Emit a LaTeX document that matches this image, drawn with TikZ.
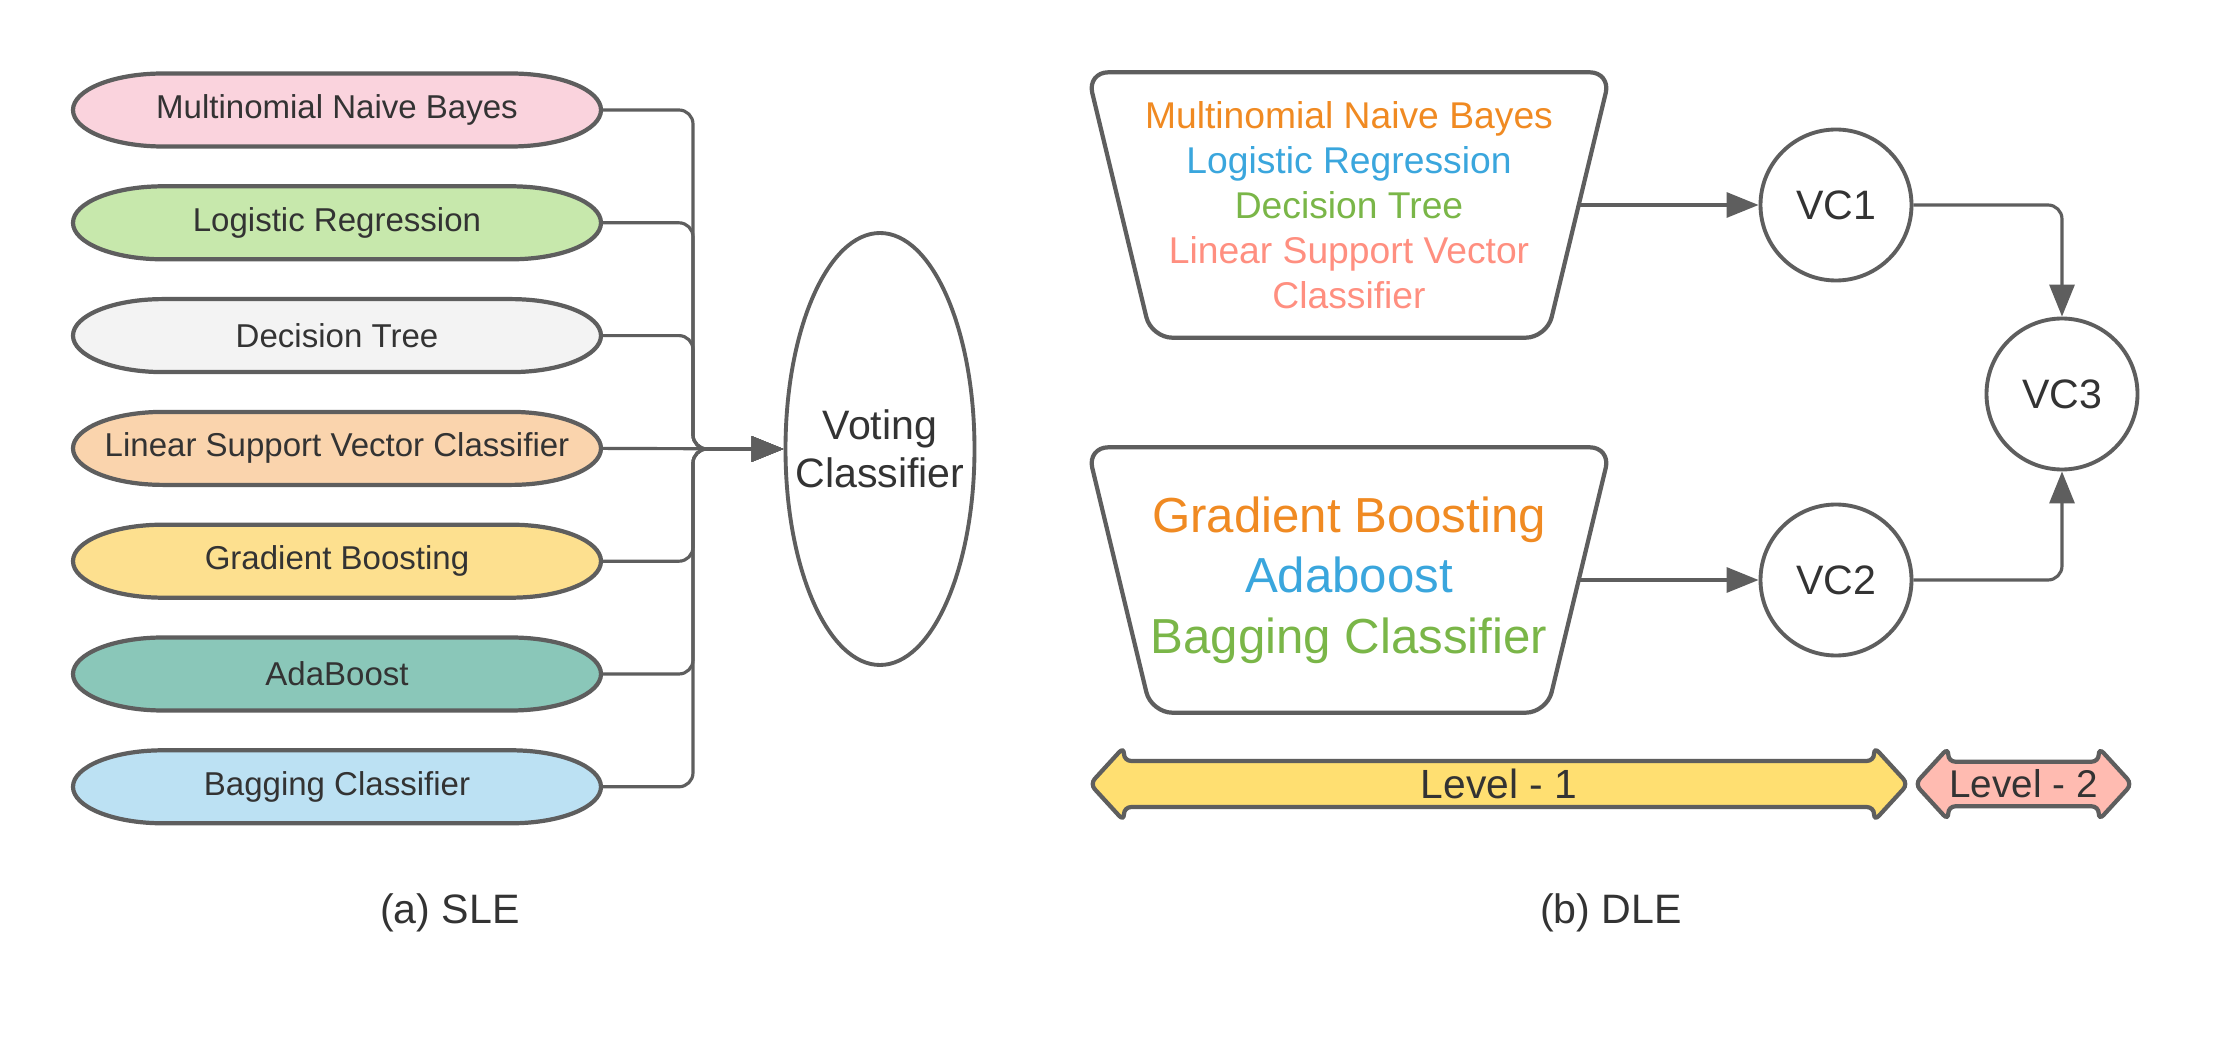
\documentclass[tikz,border=0pt]{standalone}
\usepackage{fontspec}
\setmainfont{Liberation Sans}
\usetikzlibrary{positioning, arrows.meta, calc, shapes.geometric, shapes.arrows, backgrounds}

\definecolor{edgegray}{HTML}{5E5E5E}
\definecolor{txtgray}{HTML}{333333}
\definecolor{fpink}{HTML}{FAD3DD}
\definecolor{fgreen}{HTML}{C7E8AC}
\definecolor{fgray}{HTML}{F3F3F3}
\definecolor{fpeach}{HTML}{FAD4AD}
\definecolor{fyellow}{HTML}{FDE08F}
\definecolor{fteal}{HTML}{8AC7B9}
\definecolor{fblue}{HTML}{BCE1F3}
\definecolor{lvlyellow}{HTML}{FFDF71}
\definecolor{lvlpink}{HTML}{FFBBB1}
\definecolor{torange}{HTML}{F08A22}
\definecolor{tblue}{HTML}{3AA6DD}
\definecolor{tgreen}{HTML}{7AB648}
\definecolor{tsalmon}{HTML}{FF8F80}

\begin{document}
\begin{tikzpicture}[
    every node/.style={text=txtgray},
    arrow/.style={-{Triangle[length=3.2mm,width=2.5mm]}, line width=0.9pt, draw=edgegray, rounded corners=4pt},
    model/.style={
        rectangle,
        minimum width=5.28cm,
        minimum height=0.73cm,
        inner sep=0pt,
        outer sep=0pt,
        font=\fontsize{9.4}{11}\selectfont
    },
    pill/.style={line width=1.2pt, draw=edgegray},
    voter/.style={
        ellipse,
        draw=edgegray,
        line width=1.1pt,
        minimum width=1.89cm,
        minimum height=4.32cm,
        inner xsep=-0.2cm,
        align=center,
        font=\fontsize{11.7}{13.7}\selectfont
    },
    pool/.style={
        rectangle,
        minimum width=5.22cm,
        minimum height=2.64cm,
        inner sep=0pt,
        align=center
    },
    poolline/.style={draw=edgegray, line width=1.2pt, rounded corners=6pt},
    vc/.style={
        circle,
        draw=edgegray,
        line width=1.1pt,
        minimum size=1.51cm,
        inner sep=0pt,
        font=\fontsize{11.7}{14}\selectfont
    },
    level/.style={
        double arrow,
        draw=edgegray,
        line width=1.2pt,
        rounded corners=2pt,
        minimum width=0.70cm,
        double arrow head extend=0.14cm,
        double arrow tip angle=95,
        inner ysep=0.06cm,
        font=\fontsize{11.6}{14}\selectfont
    },
    caption/.style={font=\fontsize{11.7}{14}\selectfont}
]

\useasboundingbox (0,0) rectangle (22.13,10.50);

% (a) single level ensemble
\node[model] (m1) at (3.37,9.40) {Multinomial Naive Bayes};
\node[model, below=0.398cm of m1] (m2) {Logistic Regression};
\node[model, below=0.398cm of m2] (m3) {Decision Tree};
\node[model, below=0.398cm of m3] (m4) {Linear Support Vector Classifier};
\node[model, below=0.398cm of m4] (m5) {Gradient Boosting};
\node[model, below=0.398cm of m5] (m6) {AdaBoost};
\node[model, below=0.398cm of m6] (m7) {Bagging Classifier};
\node[voter] (vote) at (8.80,6.01) {Voting\\Classifier};
\coordinate (bus) at (6.93,6.01);

\begin{scope}[on background layer]
    \fill[white] (0,0) rectangle (22.13,10.50);
    \foreach \nm/\col in {m1/fpink, m2/fgreen, m3/fgray, m4/fpeach, m5/fyellow, m6/fteal, m7/fblue}
        \draw[pill, fill=\col] ($(\nm.north west)+(0.9,0)$) -- ($(\nm.north east)+(-0.9,0)$)
            arc[start angle=90, end angle=-90, x radius=0.9, y radius=0.365]
            -- ($(\nm.south west)+(0.9,0)$)
            arc[start angle=270, end angle=90, x radius=0.9, y radius=0.365] -- cycle;
\end{scope}

\foreach \nm in {m1,m2,m3,m5,m6,m7}
    \draw[arrow] (\nm.east) -- (\nm.east -| bus) |- (vote.west);
\draw[arrow] (m4.east) -- (vote.west);

\node[caption] (capa) at (4.50,1.37) {(a) SLE};

% (b) double level ensemble
\node[pool, font=\fontsize{10.6}{12.8}\selectfont] (tr1) at (13.49,8.45) {
    \textcolor{torange}{Multinomial Naive Bayes}\\
    \textcolor{tblue}{Logistic Regression}\\
    \textcolor{tgreen}{Decision Tree}\\
    \textcolor{tsalmon}{Linear Support Vector}\\
    \textcolor{tsalmon}{Classifier}
};
\node[pool, font=\fontsize{14}{17.2}\selectfont] (tr2) at (13.49,4.70) {
    \textcolor{torange}{Gradient Boosting}\\
    \textcolor{tblue}{Adaboost}\\
    \textcolor{tgreen}{Bagging Classifier}
};
\foreach \nm in {tr1,tr2}
    \draw[poolline] (\nm.north west) -- (\nm.north east) -- ($(\nm.south east)+(-0.64,0)$)
        -- ($(\nm.south west)+(0.64,0)$) -- cycle;
\coordinate (tr1out) at ($(tr1.east)+(-0.32,0)$);
\coordinate (tr2out) at ($(tr2.east)+(-0.32,0)$);

\node[vc] (vc1) at (18.36,8.45) {VC1};
\node[vc] (vc2) at (18.36,4.70) {VC2};
\node[vc] (vc3) at (20.62,6.56) {VC3};

\draw[arrow] (tr1out) -- (vc1.west);
\draw[arrow] (tr2out) -- (vc2.west);
\draw[arrow] (vc1.east) -| (vc3.north);
\draw[arrow] (vc2.east) -| (vc3.south);

\node[level, fill=lvlyellow, minimum height=8.18cm] (lvl1) at (14.99,2.66) {Level - 1};
\node[level, fill=lvlpink, minimum height=2.17cm, font=\fontsize{11}{13}\selectfont] (lvl2) at (20.235,2.66) {Level - 2};

\node[caption] (capb) at (16.11,1.37) {(b) DLE};

\end{tikzpicture}
\end{document}
